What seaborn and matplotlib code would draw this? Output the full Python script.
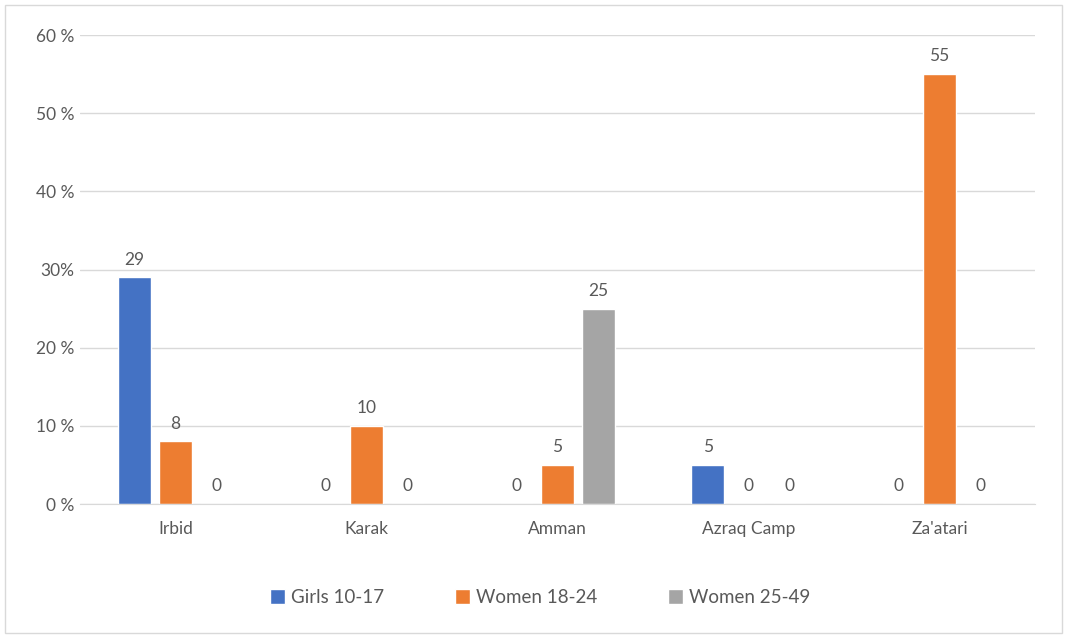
import pandas as pd
import seaborn as sns
import matplotlib.pyplot as plt
from matplotlib.patches import Rectangle

# data
locations = ["Irbid", "Karak", "Amman", "Azraq Camp", "Za'atari"]
groups = ["Girls 10-17", "Women 18-24", "Women 25-49"]
girls_10_17 = [29, 0, 0, 5, 0]
women_18_24 = [8, 10, 5, 0, 55]
women_25_49 = [0, 0, 25, 0, 0]
y_ticks = [0, 10, 20, 30, 40, 50, 60]
y_tick_labels = ["0 %", "10 %", "20 %", "30%", "40 %", "50 %", "60 %"]
colors = ["#4472C4", "#ED7D31", "#A5A5A5"]

rows = []
for g, vals in zip(groups, [girls_10_17, women_18_24, women_25_49]):
    for loc, v in zip(locations, vals):
        rows.append({"location": loc, "group": g, "value": v})
df = pd.DataFrame(rows)

sns.set_style("white")
plt.rcParams["font.family"] = ["Lato", "DejaVu Sans"]
text_col = "#595959"
fs = 12.5

fig = plt.figure(figsize=(10.67, 6.38), dpi=100)
ax = fig.add_axes([0.075, 0.21, 0.895, 0.735])

sns.barplot(data=df, x="location", y="value", hue="group", order=locations,
            hue_order=groups, palette=colors, width=0.64, gap=0.18,
            saturation=1, ax=ax, legend=True)

for cont in ax.containers:
    ax.bar_label(cont, fmt="%d", padding=7, color=text_col, fontsize=fs)

ax.set_ylim(0, 60)
ax.set_yticks(y_ticks)
ax.set_yticklabels(y_tick_labels, color=text_col, fontsize=fs)
ax.tick_params(axis="x", colors=text_col, labelsize=fs, length=0, pad=12)
ax.tick_params(axis="y", length=0, pad=4)
ax.set_xlabel("")
ax.set_ylabel("")
ax.grid(axis="y", color="#d9d9d9", linewidth=1)
ax.set_axisbelow(True)
for s in ["top", "right", "left"]:
    ax.spines[s].set_visible(False)
ax.spines["bottom"].set_color("#d9d9d9")

handles, labels = ax.get_legend_handles_labels()
ax.get_legend().remove()
leg = fig.legend(handles, labels, loc="center", bbox_to_anchor=(0.506, 0.064),
                 ncol=3, frameon=False, handlelength=0.8, handleheight=0.9,
                 handletextpad=0.3, columnspacing=3.8, fontsize=13.5)
for t in leg.get_texts():
    t.set_color(text_col)

fig.patches.append(Rectangle((0.005, 0.008), 0.99, 0.984, transform=fig.transFigure,
                             fill=False, edgecolor="#d9d9d9", linewidth=1))

plt.savefig("out.png", dpi=100)
plt.close()
